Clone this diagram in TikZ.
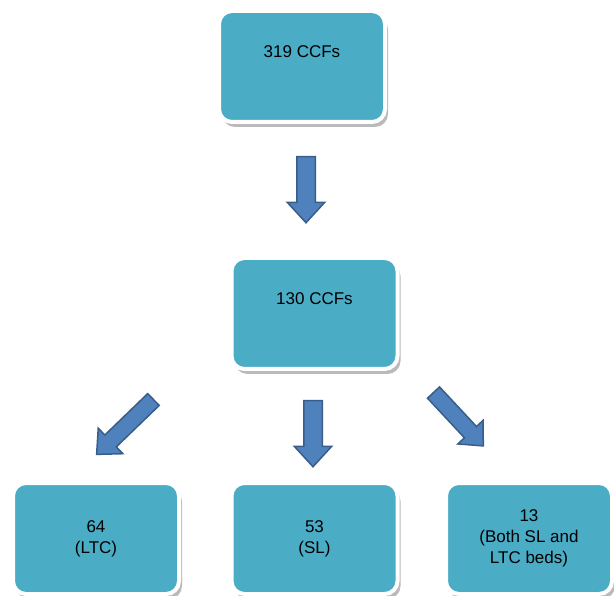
\documentclass[tikz,border=0pt]{standalone}
\usepackage{fontspec}
\setmainfont{Liberation Sans}
\usetikzlibrary{shapes.arrows,shadows}
\definecolor{boxfill}{HTML}{4BACC6}
\definecolor{arrowfill}{HTML}{4F81BD}
\definecolor{arrowline}{HTML}{385D8A}
\begin{document}
\begin{tikzpicture}[
    x=1pt, y=-1pt,
    box node/.style={rectangle, rounded corners=13pt, draw=white, line width=4pt,
        fill=boxfill, minimum width=166pt, minimum height=111pt, align=center,
        font=\fontsize{17}{21}\selectfont,
        drop shadow={shadow xshift=3pt, shadow yshift=-5pt, fill=black!45, opacity=0.6}},
    fat arrow/.style={single arrow, draw=arrowline, line width=1.5pt, fill=arrowfill,
        inner xsep=0pt, inner ysep=8.5pt, single arrow head extend=9.5pt,
        single arrow tip angle=85, anchor=tail}
]
    \useasboundingbox (0,0) rectangle (614,596);

    \node[box node] (all)  at (302,66.5)  {319 CCFs\\[8pt]\mbox{}};
    \node[box node] (kept) at (314.5,313.5) {130 CCFs\\[8pt]\mbox{}};
    \node[box node] (ltc)  at (96,538.5)  {64\\(LTC)};
    \node[box node] (sl)   at (314.5,538.5) {53\\(SL)};
    \node[box node] (both) at (529,538.5) {13\\(Both SL and\\LTC beds)};

    \node[fat arrow, minimum height=66pt, rotate=-90] (down1) at (306,156) {};
    \node[fat arrow, minimum height=66pt, rotate=-90] (down2) at (313,400) {};
    \node[fat arrow, minimum height=79pt, inner ysep=7.5pt,
        single arrow head extend=9.5pt, rotate=224] (toltc) at (154,399) {};
    \node[fat arrow, minimum height=73pt, inner ysep=7.5pt,
        single arrow head extend=9pt, rotate=-47] (toboth) at (433,392) {};
\end{tikzpicture}
\end{document}
